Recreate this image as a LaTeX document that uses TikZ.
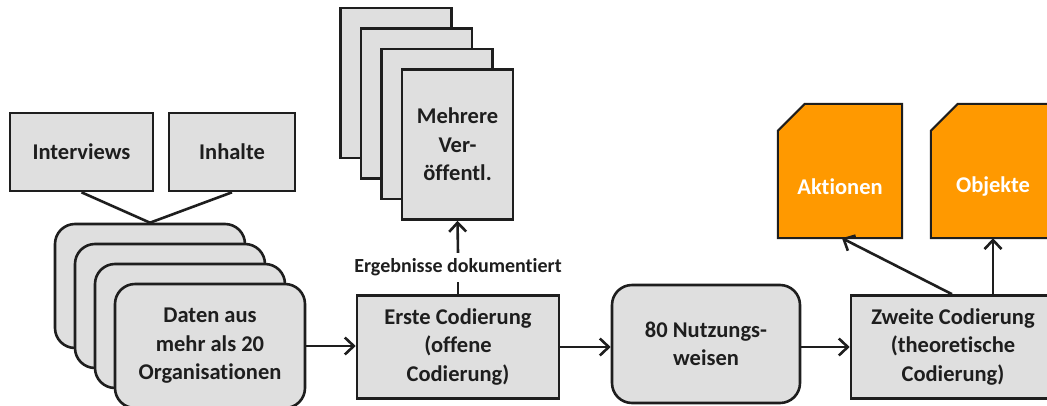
\documentclass[tikz,border=0pt]{standalone}
\usepackage{fontspec}
\setmainfont[Ligatures={NoCommon}]{Carlito}
\usetikzlibrary{arrows.meta}
\definecolor{boxgray}{HTML}{DFDFDF}
\definecolor{ink}{HTML}{1E1E1E}
\definecolor{orng}{HTML}{FF9900}
\tikzset{
  base/.style={draw=ink, line width=2.6pt, fill=boxgray, text=ink,
    font=\bfseries\fontsize{22.5}{28.5}\selectfont, align=center, inner sep=0pt},
  sqbox/.style={base},
  rbox/.style={base, rounded corners=20pt},
  orshape/.style={inner sep=0pt, minimum width=124pt, minimum height=134pt},
  ortext/.style={text=white, font=\bfseries\fontsize{22.5}{28}\selectfont, inner sep=0pt},
  conn/.style={draw=ink, line width=2.6pt},
  arr/.style={conn, -{Straight Barb[length=9pt,width=17pt]}},
  lbl/.style={text=ink, font=\bfseries\fontsize{20}{24}\selectfont, inner sep=0pt, minimum height=29pt}
}
\begin{document}
\begin{tikzpicture}[x=1pt,y=-1pt]
\useasboundingbox (0,0) rectangle (1047,405);

% input boxes
\node[sqbox, minimum width=143pt, minimum height=78pt] (intv) at (81.5,152) {Interviews};
\node[sqbox, minimum width=126pt, minimum height=78pt] (inh) at (232,152) {Inhalte};

% stacked data boxes
\node[rbox, minimum width=190pt, minimum height=124pt] (daten1) at (150,286) {};
\node[rbox, minimum width=190pt, minimum height=124pt] (daten2) at (170,306) {};
\node[rbox, minimum width=190pt, minimum height=124pt] (daten3) at (190,326) {};
\node[rbox, minimum width=190pt, minimum height=124pt] (daten4) at (210,346) {Daten aus\\mehr als 20\\Organisationen};

\draw[conn] (intv.south) -- (daten1.north) -- (inh.south);

% document stack
\node[sqbox, minimum width=111pt, minimum height=150pt] (doc1) at (396,83) {};
\node[sqbox, minimum width=111pt, minimum height=150pt] (doc2) at (416.5,103.5) {};
\node[sqbox, minimum width=111pt, minimum height=150pt] (doc3) at (437,124) {};
\node[sqbox, minimum width=111pt, minimum height=150pt] (doc4) at (457.5,144.5) {Mehrere\\Ver-\\öffentl.};

% process boxes
\node[sqbox, minimum width=202pt, minimum height=103pt] (erste) at (458,347) {Erste Codierung\\(offene\\Codierung)};
\node[rbox, minimum width=188pt, minimum height=118pt] (nutz) at (706,344) {80 Nutzungs-\\weisen};
\node[sqbox, minimum width=204pt, minimum height=103pt] (zweite) at (953,347) {Zweite Codierung\\(theoretische\\Codierung)};

% label between Erste and documents
\node[lbl] (erg) at (458,267.5) {Ergebnisse dokumentiert};

% orange outputs
\node[orshape] (akt) at (840,171) {};
\node[orshape] (obj) at (993,171) {};
\foreach \n in {akt,obj}{
  \draw[draw=ink, line width=2pt, fill=orng]
    (\n.south west) -- ([yshift=-27pt]\n.north west) -- ([xshift=27pt]\n.north west)
    -- (\n.north east) -- (\n.south east) -- cycle;
}
\node[ortext] (akttxt) at (840,187) {Aktionen};
\node[ortext] (objtxt) at (993,187) {Objekte};

% connectors
\draw[arr] (daten4.east) -- (daten4.east -| erste.west);
\draw[arr] (erste.east) -- (erste.east -| nutz.west);
\draw[arr] (nutz.east |- zweite.west) -- (zweite.west);
\draw[conn] (erste.north) -- (erg.south);
\draw[arr] (erg.north) -- (doc4.south);
\draw[arr] ([xshift=-1pt]zweite.north) -- ([xshift=2pt]akt.south);
\draw[arr] (obj.south |- zweite.north) -- (obj.south);
\end{tikzpicture}
\end{document}
